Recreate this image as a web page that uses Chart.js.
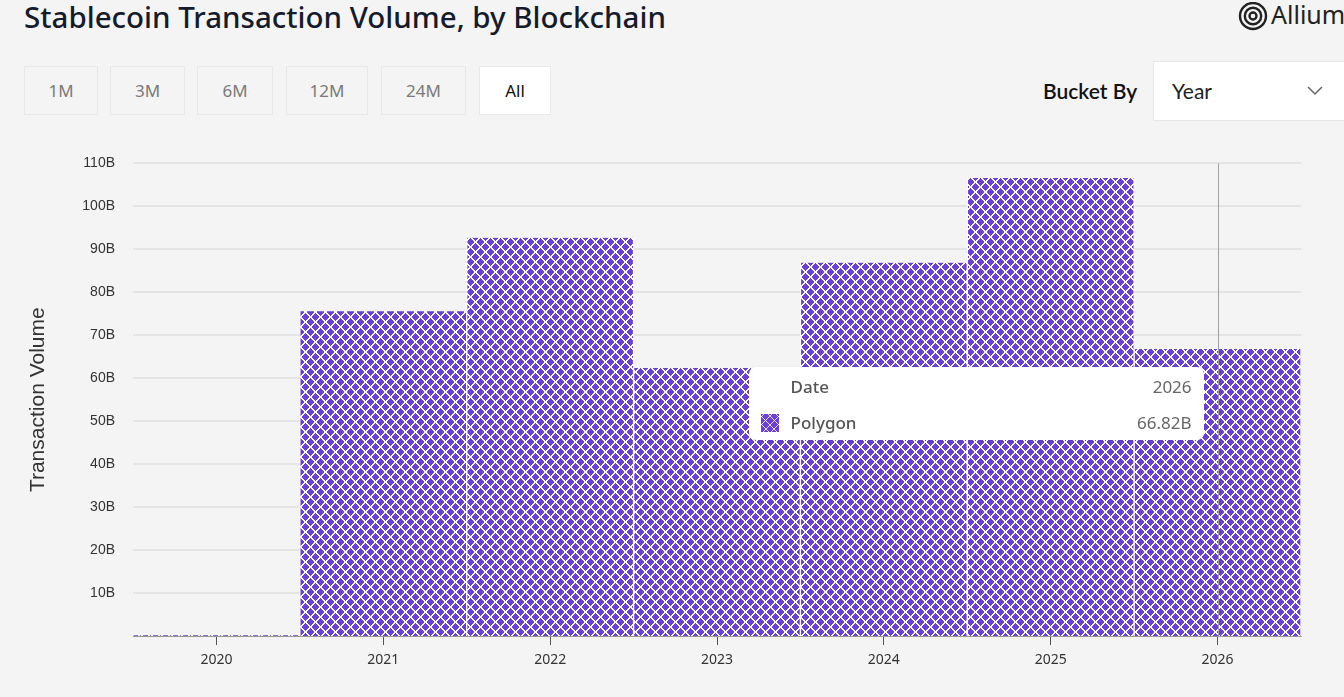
<!DOCTYPE html>
<html>
<head>
<meta charset="utf-8">
<script src="https://cdn.jsdelivr.net/npm/chart.js@4"></script>
<style>
  html, body { margin: 0; padding: 0; background: #f4f4f4; width: 1344px; height: 697px; overflow: hidden; }
  body { position: relative; font-family: "Noto Sans", sans-serif; }
  .title { position: absolute; left: 24px; top: -4px; font-size: 29.5px; font-weight: 500; color: #161b2b; white-space: nowrap; }
  .logo { position: absolute; left: 1238px; top: -3px; font-family: "Noto Sans", sans-serif; font-size: 25px; color: #222; white-space: nowrap; }
  .logo svg { position: absolute; left: 0; top: 5px; }
  .logo span { position: absolute; left: 33px; top: 0; }
  .btn { position: absolute; top: 66px; height: 49px; box-sizing: border-box; border: 1px solid #e8e8e8; background: #f4f4f4;
         font-size: 17px; color: #7a7a7a; line-height: 47px; text-align: center; }
  .btn.on { background: #fff; color: #111; }
  .bucket { position: absolute; left: 1043px; top: 78px; font-family: Lato, sans-serif; font-size: 21px; font-weight: 600; color: #111; }
  .select { position: absolute; left: 1153px; top: 61px; width: 200px; height: 60px; box-sizing: border-box; background: #fff; border: 1px solid #e6e6e6; }
  .select span { position: absolute; left: 18px; top: 16px; font-family: Lato, sans-serif; font-size: 21px; color: #222; }
  .select svg { position: absolute; left: 153px; top: 24px; }
  #wrap { position: absolute; left: 0; top: 137px; width: 1344px; height: 560px; }
  #tip { position: absolute; display: none; width: 455px; height: 73px; background: #fff; border-radius: 7px; box-shadow: 0 1px 4px rgba(0,0,0,0.08); }
  #tip .row { position: absolute; left: 0; right: 0; height: 24px; font-size: 17px; }
  #tip .lab { position: absolute; left: 42px; color: #555; font-weight: 500; }
  #tip .val { position: absolute; right: 12px; color: #666; }
  #tip .sw { position: absolute; left: 12px; top: 3px; width: 18px; height: 18px;
             background-color: #6a40d8;
             background-image: repeating-linear-gradient(45deg, transparent 0 5px, rgba(255,255,255,0.8) 5px 6px),
                               repeating-linear-gradient(-45deg, transparent 0 5px, rgba(255,255,255,0.8) 5px 6px); }
</style>
</head>
<body>
<div class="title">Stablecoin Transaction Volume, by Blockchain</div>
<div class="logo">
  <svg width="30" height="30" viewBox="0 0 30 30"><g fill="none" stroke="#222" stroke-width="2.4">
    <circle cx="15" cy="14" r="13"/><circle cx="15" cy="14" r="8.2"/><circle cx="15" cy="14" r="3.5"/></g></svg>
  <span>Allium</span>
</div>
<div class="btn" style="left:24px;width:74px">1M</div>
<div class="btn" style="left:110px;width:75px">3M</div>
<div class="btn" style="left:197px;width:76px">6M</div>
<div class="btn" style="left:286px;width:82px">12M</div>
<div class="btn" style="left:381px;width:85px">24M</div>
<div class="btn on" style="left:479px;width:72px">All</div>
<div class="bucket">Bucket By</div>
<div class="select"><span>Year</span>
  <svg width="16" height="10" viewBox="0 0 16 10"><path d="M1 1 L8 8 L15 1" fill="none" stroke="#666" stroke-width="1.5"/></svg>
</div>
<div id="wrap"><canvas id="chart"></canvas></div>
<div id="tip">
  <div class="row" style="top:8px"><span class="lab">Date</span><span class="val" id="tipDate"></span></div>
  <div class="row" style="top:44px"><span class="sw"></span><span class="lab">Polygon</span><span class="val" id="tipVal"></span></div>
</div>
<script>
// data
const years = ['2020', '2021', '2022', '2023', '2024', '2025', '2026'];
const polygonVolume = [0.15, 75.6, 92.7, 62.4, 86.9, 106.6, 66.82]; // billions
const yTicks = [10, 20, 30, 40, 50, 60, 70, 80, 90, 100, 110];
const activeIndex = 6;

// diamond hatch fill for the bars
function makePattern() {
  const n = 10;
  const c = document.createElement('canvas');
  c.width = n; c.height = n;
  const g = c.getContext('2d');
  g.fillStyle = '#6a40d8';
  g.fillRect(0, 0, n, n);
  g.fillStyle = '#ffffff';
  for (let i = 0; i < n; i++) {
    g.fillRect(i, i, 2, 1);
    g.fillRect((n - 1 - i + n) % n, i, 2, 1);
  }
  g.fillStyle = '#6a40d8';
  g.fillRect(0, 1, 1, n - 2);
  g.fillStyle = '#ffffff';
  g.fillRect(0, 0, 1, 1);
  g.fillRect(0, n - 1, 1, 1);
  return document.getElementById('chart').getContext('2d').createPattern(c, 'repeat');
}

const crosshair = {
  id: 'crosshair',
  afterDatasetsDraw(chart) {
    const act = chart.getActiveElements();
    if (!act.length) return;
    const x = Math.round(act[0].element.x) + 0.5;
    const a = chart.chartArea;
    const ctx = chart.ctx;
    ctx.save();
    ctx.strokeStyle = '#a0a0a0';
    ctx.lineWidth = 1;
    ctx.beginPath();
    ctx.moveTo(x, a.top);
    ctx.lineTo(x, a.bottom);
    ctx.stroke();
    ctx.restore();
  }
};

function externalTip(context) {
  const tip = document.getElementById('tip');
  const t = context.tooltip;
  if (!t || t.opacity === 0 || !t.dataPoints || !t.dataPoints.length) { tip.style.display = 'none'; return; }
  const dp = t.dataPoints[0];
  document.getElementById('tipDate').textContent = dp.label;
  document.getElementById('tipVal').textContent = dp.raw.toFixed(2) + 'B';
  const wrap = document.getElementById('wrap');
  tip.style.display = 'block';
  tip.style.left = (wrap.offsetLeft + t.caretX - 14 - 455) + 'px';
  tip.style.top = (wrap.offsetTop + t.caretY + 18) + 'px';
}

const chart = new Chart(document.getElementById('chart'), {
  type: 'bar',
  data: {
    labels: years,
    datasets: [{
      label: 'Polygon',
      data: polygonVolume,
      backgroundColor: makePattern(),
      hoverBackgroundColor: makePattern(),
      borderColor: '#ffffff',
      hoverBorderColor: '#ffffff',
      borderWidth: { top: 0, bottom: 0, left: 1, right: 1 },
      borderSkipped: false,
      barPercentage: 1,
      categoryPercentage: 1
    }]
  },
  options: {
    responsive: true,
    maintainAspectRatio: false,
    animation: false,
    events: [],
    layout: { padding: { top: 19, right: 43, left: 0, bottom: 0 } },
    plugins: {
      legend: { display: false },
      tooltip: { enabled: false, external: externalTip }
    },
    scales: {
      x: {
        grid: { display: true, offset: false, drawOnChartArea: false, drawTicks: true, tickLength: 9, color: '#555' },
        border: { display: true, color: '#999', width: 1 },
        ticks: { color: '#333', padding: 7, font: { family: 'Noto Sans', size: 14 } },
        afterFit(s) { s.height = 61; }
      },
      y: {
        min: 0,
        max: 110,
        grid: { color: '#e4e4e4', lineWidth: 2, drawTicks: false },
        border: { display: false },
        afterBuildTicks(s) { s.ticks = yTicks.map(v => ({ value: v })); },
        ticks: {
          color: '#333',
          padding: 18,
          font: { family: 'Liberation Sans', size: 14 },
          callback: v => v + 'B'
        },
        title: {
          display: true,
          text: 'Transaction Volume',
          color: '#333',
          font: { family: 'Liberation Sans', size: 21 },
          padding: { top: 26, bottom: 0 }
        },
        afterFit(s) { s.width = 133; }
      }
    }
  },
  plugins: [crosshair]
});

const el = chart.getDatasetMeta(0).data[activeIndex];
chart.setActiveElements([{ datasetIndex: 0, index: activeIndex }]);
chart.tooltip.setActiveElements([{ datasetIndex: 0, index: activeIndex }], { x: el.x, y: el.y });
chart.update();
</script>
</body>
</html>
